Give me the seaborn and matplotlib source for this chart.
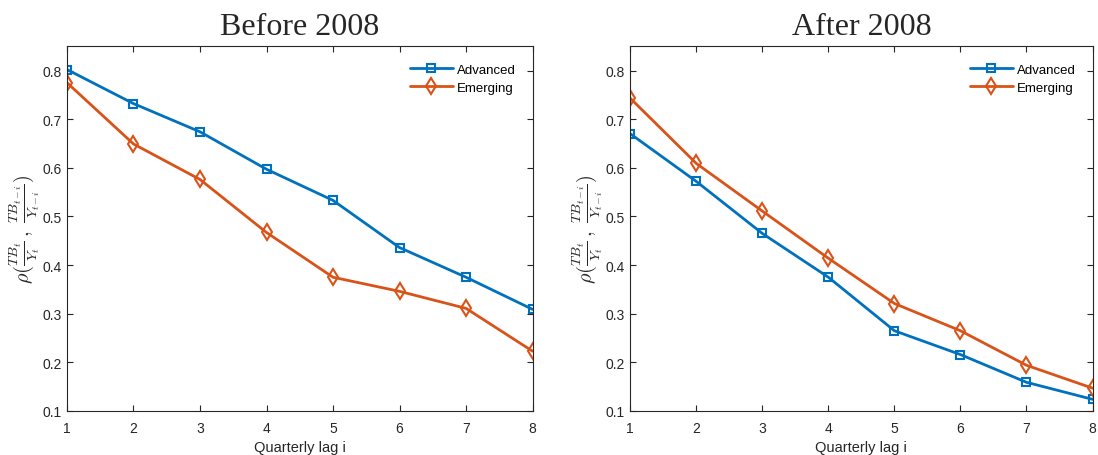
import numpy as np
import pandas as pd
import matplotlib
matplotlib.use("Agg")
import matplotlib.pyplot as plt
import seaborn as sns

sns.set_theme(style="white")
plt.rcParams['font.family'] = ['Liberation Sans', 'DejaVu Sans']
plt.rcParams['mathtext.fontset'] = 'cm'

lags = [1, 2, 3, 4, 5, 6, 7, 8]
before_advanced = [0.802, 0.732, 0.674, 0.597, 0.533, 0.436, 0.375, 0.309]
before_emerging = [0.775, 0.649, 0.576, 0.467, 0.375, 0.346, 0.311, 0.223]
after_advanced = [0.670, 0.572, 0.465, 0.375, 0.265, 0.216, 0.159, 0.124]
after_emerging = [0.743, 0.609, 0.511, 0.414, 0.321, 0.265, 0.194, 0.147]
titles = ["Before 2008", "After 2008"]

blue = "#0072BD"
orange = "#D95319"

fig = plt.figure(figsize=(10.98, 4.56), dpi=100)
ax1 = fig.add_axes([0.061, 0.0965, 0.424, 0.800])
ax2 = fig.add_axes([0.574, 0.0965, 0.421, 0.800])

panels = [(ax1, before_advanced, before_emerging, titles[0]),
          (ax2, after_advanced, after_emerging, titles[1])]

for ax, adv, emg, title in panels:
    sns.lineplot(x=lags, y=adv, ax=ax, color=blue, lw=2, marker="s",
                 markersize=5.5, markerfacecolor="none", markeredgecolor=blue,
                 markeredgewidth=1.5, label="Advanced")
    sns.lineplot(x=lags, y=emg, ax=ax, color=orange, lw=2, marker="d",
                 markersize=8, markerfacecolor="none", markeredgecolor=orange,
                 markeredgewidth=1.5, label="Emerging")
    ax.set_xlim(1, 8)
    ax.set_ylim(0.1, 0.85)
    ax.set_xticks(lags)
    ax.set_yticks([0.1, 0.2, 0.3, 0.4, 0.5, 0.6, 0.7, 0.8])
    ax.set_yticklabels(["0.1", "0.2", "0.3", "0.4", "0.5", "0.6", "0.7", "0.8"])
    ax.tick_params(direction="in", length=4, width=0.8, colors="#262626",
                   labelsize=10, top=True, right=True, bottom=True, left=True,
                   labelcolor="#262626")
    ax.tick_params(axis="x", pad=7)
    ax.tick_params(axis="y", pad=4)
    for s in ax.spines.values():
        s.set_color("#262626")
        s.set_linewidth(0.8)
    ax.set_xlabel("Quarterly lag i", fontsize=10.5, color="#262626", labelpad=4)
    ax.set_ylabel(r"$\rho(\frac{TB_t}{Y_t}\,,\;\frac{TB_{t-i}}{Y_{t-i}})$",
                  fontsize=14.5, color="#262626", labelpad=0)
    ax.set_title(title, fontsize=23, family=["Liberation Serif", "DejaVu Serif"],
                 pad=9)
    leg = ax.legend(loc="upper right", frameon=False, fontsize=9.5,
                    handlelength=3.2, handletextpad=0.3, borderaxespad=0.9,
                    labelspacing=0.45)
    for t in leg.get_texts():
        t.set_color("#000000")

fig.savefig("out.png", dpi=100)
